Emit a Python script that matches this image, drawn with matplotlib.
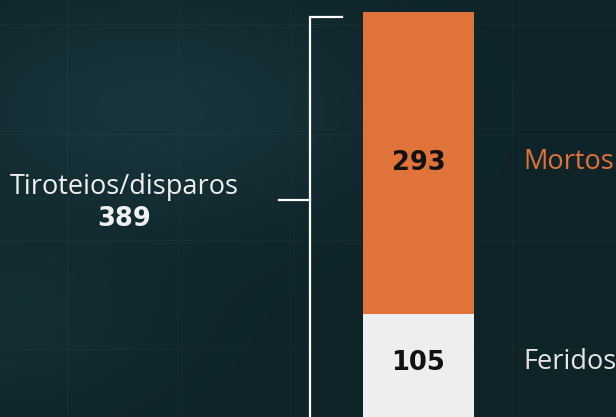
import numpy as np
import matplotlib
matplotlib.use("Agg")
import matplotlib.pyplot as plt

# data
categories = ["Feridos", "Mortos"]
values = [105, 293]
colors = ["#eeeeee", "#e0733a"]
label_colors = ["#e6e6e6", "#e0733a"]
bracket_label = "Tiroteios/disparos"
bracket_value = 389

W, H = 616, 417
fig = plt.figure(figsize=(W / 100, H / 100), dpi=100)

# background layer in pixel coordinates
bg = fig.add_axes([0, 0, 1, 1])
bg.set_xlim(0, W)
bg.set_ylim(H, 0)
bg.axis("off")
yy, xx = np.mgrid[0:H, 0:W]
glow = (np.exp(-(((xx - 150) / 220) ** 2 + ((yy - 110) / 110) ** 2))
        + 0.6 * np.exp(-(((xx - 0) / 160) ** 2 + ((yy - 320) / 90) ** 2)))
base = np.array([0x0e, 0x24, 0x29]) / 255
light = np.array([0x18, 0x35, 0x3b]) / 255
img = base + np.clip(glow, 0, 1)[..., None] * (light - base)
bg.imshow(img, extent=[0, W, H, 0], aspect="auto", zorder=0)
for gx in [67, 178, 290, 402, 512]:
    bg.axvline(gx, color="#ffffff", alpha=0.03, lw=0.8)
for gy in [24, 134, 240, 349]:
    bg.axhline(gy, color="#ffffff", alpha=0.03, lw=0.8)

# chart layer
ax = fig.add_axes([0, 0, 1, 1])
ax.patch.set_alpha(0)
ax.set_xlim(0, W)
ax.set_ylim(4.7, 409.6)
ax.axis("off")

bar_x = 418.5
bottom = 0
for cat, val, col, lcol in zip(categories, values, colors, label_colors):
    ax.bar(bar_x, val, width=111, bottom=bottom, color=col, linewidth=0)
    mid = bottom + val / 2
    if cat == "Feridos":
        mid = 57
    ax.text(bar_x, mid, str(val), ha="center", va="center", fontsize=18.5,
            fontweight="bold", color="#111111", family="DejaVu Sans")
    ax.text(523, mid + 1, cat, ha="left", va="center", fontsize=19.5,
            color=lcol, family="Open Sans")
    bottom += val

# bracket
top = bracket_value + 4
ax.plot([342, 310, 310], [top, top, -10], color="white", lw=1.6,
        solid_joinstyle="miter", clip_on=False)
ax.plot([279, 310], [215, 215], color="white", lw=1.6)
ax.text(124, 228, bracket_label, ha="center", va="center", fontsize=19.5,
        color="#f0f0f0", family="Open Sans")
ax.text(124, 197, str(bracket_value), ha="center", va="center", fontsize=18.5,
        fontweight="bold", color="#f0f0f0", family="DejaVu Sans")

fig.savefig("out.png", dpi=100)
